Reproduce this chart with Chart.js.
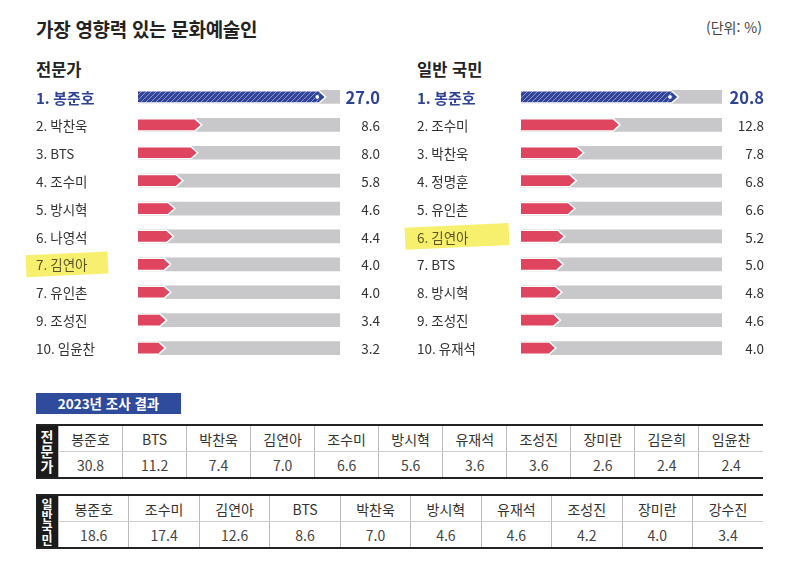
<!DOCTYPE html>
<html lang="ko">
<head>
<meta charset="UTF-8">
<title>가장 영향력 있는 문화예술인</title>
<style>
  body { margin: 0; width: 800px; height: 568px; background: #fff; position: relative; overflow: hidden;
         font-family: "Noto Sans CJK KR", "Noto Sans", sans-serif; color: #222; }
  .abs { position: absolute; }
  #title { left: 36px; top: 15px; font-size: 19px; font-weight: 700; letter-spacing: -0.3px; }
  #unit { left: 706px; top: 17px; font-size: 14px; color: #444; }
  .sub { top: 57px; font-size: 16.5px; font-weight: 700; }
  #boxLabel { left: 36px; top: 393px; width: 145px; height: 21px; background: #2f4b9b; color: #fff;
              font-size: 13.5px; font-weight: 700; text-align: center; line-height: 21px; }
  table { position: absolute; left: 36px; width: 727px; border-collapse: collapse; table-layout: fixed;
          border-top: 2px solid #222; border-bottom: 2px solid #222; }
  td { text-align: center; height: 25px; font-size: 14px; color: #333; border-left: 1px solid #bbb; padding: 0; }
  td.hd { background: #1b1b1b; color: #fff; font-weight: 700; width: 22px; border: none; overflow: hidden; }
  td.hd div { display: block; text-align: center; }
  tr.names td { border-bottom: 1px solid #ccc; }
  tr.vals td { color: #444; }
</style>
</head>
<body>
  <div id="title" class="abs">가장 영향력 있는 문화예술인</div>
  <div id="unit" class="abs">(단위: %)</div>
  <div class="abs sub" style="left:36px">전문가</div>
  <div class="abs sub" style="left:417px">일반 국민</div>

  <div class="abs" style="left:20px; top:83px; width:370px; height:279px;">
    <canvas id="expertChart"></canvas>
  </div>
  <div class="abs" style="left:401px; top:83px; width:371px; height:279px;">
    <canvas id="publicChart"></canvas>
  </div>

  <div id="boxLabel" class="abs">2023년 조사 결과</div>
  <table id="expertTable" style="top:424px"></table>
  <table id="publicTable" style="top:494px"></table>

<script src="https://cdn.jsdelivr.net/npm/chart.js"></script>
<script>
  // 2024 순위
  const expertNames = ['1. 봉준호', '2. 박찬욱', '3. BTS', '4. 조수미', '5. 방시혁', '6. 나영석', '7. 김연아', '7. 유인촌', '9. 조성진', '10. 임윤찬'];
  const expertValues = [27.0, 8.6, 8.0, 5.8, 4.6, 4.4, 4.0, 4.0, 3.4, 3.2];
  const publicNames = ['1. 봉준호', '2. 조수미', '3. 박찬욱', '4. 정명훈', '5. 유인촌', '6. 김연아', '7. BTS', '8. 방시혁', '9. 조성진', '10. 유재석'];
  const publicValues = [20.8, 12.8, 7.8, 6.8, 6.6, 5.2, 5.0, 4.8, 4.6, 4.0];
  const expertTrackMax = 30;
  const publicTrackMax = 27.6;

  // 2023년 조사 결과
  const expert2023Names = ['봉준호', 'BTS', '박찬욱', '김연아', '조수미', '방시혁', '유재석', '조성진', '장미란', '김은희', '임윤찬'];
  const expert2023Values = ['30.8', '11.2', '7.4', '7.0', '6.6', '5.6', '3.6', '3.6', '2.6', '2.4', '2.4'];
  const public2023Names = ['봉준호', '조수미', '김연아', 'BTS', '박찬욱', '방시혁', '유재석', '조성진', '장미란', '강수진'];
  const public2023Values = ['18.6', '17.4', '12.6', '8.6', '7.0', '4.6', '4.6', '4.2', '4.0', '3.4'];

  const RED = '#e0455f';
  const BLUE = '#2f4396';
  const TRACK = '#c8c8cb';
  const FONT = '"Noto Sans CJK KR", "Noto Sans", sans-serif';

  function makeHatch() {
    const c = document.createElement('canvas');
    c.width = 5; c.height = 5;
    const g = c.getContext('2d');
    g.fillStyle = '#31449a';
    g.fillRect(0, 0, 5, 5);
    g.strokeStyle = 'rgba(255,255,255,0.5)';
    g.lineWidth = 0.9;
    g.beginPath();
    g.moveTo(0, 5); g.lineTo(5, 0);
    g.moveTo(-1, 1); g.lineTo(1, -1);
    g.moveTo(4, 6); g.lineTo(6, 4);
    g.stroke();
    return g.createPattern(c, 'repeat');
  }
  const hatch = makeHatch();

  const decor = {
    id: 'decor',
    beforeDatasetsDraw(chart, args, o) {
      const ctx = chart.ctx;
      const ys = chart.scales.y;
      // 노란 형광펜
      const hy = ys.getPixelForValue(o.hl);
      ctx.save();
      ctx.translate(o.hlX + o.hlW / 2, hy);
      ctx.rotate(-0.045);
      ctx.fillStyle = 'rgba(246,238,95,0.9)';
      ctx.fillRect(-o.hlW / 2, -11, o.hlW, 22);
      ctx.restore();
      // 이름 라벨
      ctx.save();
      ctx.textBaseline = 'middle';
      ctx.textAlign = 'left';
      chart.data.labels.forEach((lab, i) => {
        const y = ys.getPixelForValue(i);
        if (i === 0) {
          ctx.font = '700 15px ' + FONT;
          ctx.fillStyle = BLUE;
        } else {
          ctx.font = '400 13.5px ' + FONT;
          ctx.fillStyle = i === o.hl ? '#5c5428' : '#333';
        }
        ctx.fillText(lab, 16, y + 1);
      });
      ctx.restore();
    },
    afterDatasetsDraw(chart, args, o) {
      const ctx = chart.ctx;
      const meta = chart.getDatasetMeta(0);
      const vals = chart.data.datasets[0].data;
      ctx.save();
      meta.data.forEach((el, i) => {
        const p = el.getProps(['x', 'y', 'height'], true);
        const h = p.height / 2 - 1.5;
        ctx.beginPath();
        ctx.moveTo(p.x - 0.5, p.y - h);
        ctx.lineTo(p.x + 5, p.y);
        ctx.lineTo(p.x - 0.5, p.y + h);
        ctx.closePath();
        ctx.fillStyle = i === 0 ? '#31449a' : RED;
        ctx.fill();
        ctx.beginPath();
        ctx.moveTo(p.x - 0.5, p.y - h - 0.75);
        ctx.lineTo(p.x + 5.9, p.y);
        ctx.lineTo(p.x - 0.5, p.y + h + 0.75);
        ctx.strokeStyle = '#fff';
        ctx.lineWidth = 1.5;
        ctx.stroke();
        if (i === 0) {
          ctx.beginPath();
          ctx.arc(p.x - 2.5, p.y, 2.4, 0, Math.PI * 2);
          ctx.fillStyle = '#fff';
          ctx.fill();
          ctx.lineWidth = 1;
          ctx.strokeStyle = '#31449a';
          ctx.stroke();
        }
        // 수치
        ctx.textAlign = 'right';
        ctx.textBaseline = 'middle';
        if (i === 0) {
          ctx.font = '700 16.5px ' + FONT;
          ctx.fillStyle = BLUE;
        } else {
          ctx.font = '400 13.5px ' + FONT;
          ctx.fillStyle = '#333';
        }
        ctx.fillText(vals[i].toFixed(1), chart.chartArea.right + o.valueRight, p.y + 1);
      });
      ctx.restore();
    }
  };

  function makeChart(id, names, values, trackMax, axisWidth, hl, hlX, hlW, valueRight) {
    return new Chart(document.getElementById(id), {
      type: 'bar',
      data: {
        labels: names,
        datasets: [{
          data: values,
          backgroundColor: values.map((v, i) => i === 0 ? hatch : RED),
          borderColor: '#fff',
          borderWidth: { top: 1.5, bottom: 1.5, left: 0, right: 0 },
          borderSkipped: false,
          barThickness: 13,
          grouped: false,
          order: 0
        }, {
          data: names.map(() => trackMax),
          backgroundColor: TRACK,
          borderWidth: 0,
          barThickness: 13,
          grouped: false,
          order: 1
        }]
      },
      options: {
        indexAxis: 'y',
        responsive: true,
        maintainAspectRatio: false,
        animation: false,
        devicePixelRatio: 1,
        layout: { padding: { left: 16, right: 50, top: 0, bottom: 0 } },
        scales: {
          x: { display: false, min: 0, max: trackMax },
          y: {
            grid: { display: false, drawTicks: false },
            border: { display: false },
            ticks: { display: false },
            afterFit(axis) { axis.width = axisWidth; }
          }
        },
        plugins: {
          legend: { display: false },
          tooltip: { enabled: false },
          decor: { hl: hl, hlX: hlX, hlW: hlW, valueRight: valueRight }
        }
      },
      plugins: [decor]
    });
  }

  makeChart('expertChart', expertNames, expertValues, expertTrackMax, 102, 6, 6, 82, 40);
  makeChart('publicChart', publicNames, publicValues, publicTrackMax, 104, 5, 4, 104, 42);

  function fillTable(id, header, names, values) {
    const t = document.getElementById(id);
    const lh = header.length > 3 ? 12 : 15;
    const fs = header.length > 3 ? 12 : 14;
    let html = '<tr class="names"><td class="hd" rowspan="2">';
    header.split('').forEach(ch => {
      html += '<div style="font-size:' + fs + 'px;line-height:' + lh + 'px;height:' + lh + 'px">' + ch + '</div>';
    });
    html += '</td>';
    names.forEach(n => { html += '<td>' + n + '</td>'; });
    html += '</tr><tr class="vals">';
    values.forEach(v => { html += '<td>' + v + '</td>'; });
    html += '</tr>';
    t.innerHTML = html;
  }
  fillTable('expertTable', '전문가', expert2023Names, expert2023Values);
  fillTable('publicTable', '일반국민', public2023Names, public2023Values);
</script>
</body>
</html>
